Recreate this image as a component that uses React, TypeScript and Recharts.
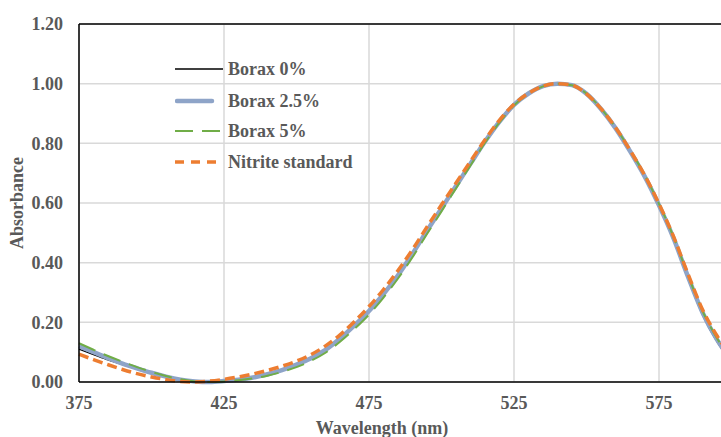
import React from 'react';
import { LineChart, Line, XAxis, YAxis, CartesianGrid, ReferenceLine } from 'recharts';

const wavelengths = [
  375, 380, 385, 390, 395, 400, 405, 410, 415, 420, 425, 430, 435, 440, 445, 450,
  455, 460, 465, 470, 475, 480, 485, 490, 495, 500, 505, 510, 515, 520, 525, 530,
  535, 540, 545, 550, 555, 560, 565, 570, 575, 580, 585, 590, 595, 600,
];

const borax0 = [
  0.110, 0.092, 0.074, 0.058, 0.043, 0.028, 0.016, 0.006, 0.001, 0.000, 0.003, 0.007,
  0.013, 0.024, 0.038, 0.056, 0.078, 0.106, 0.145, 0.188, 0.236, 0.293, 0.357, 0.428,
  0.505, 0.580, 0.655, 0.730, 0.805, 0.872, 0.928, 0.966, 0.991, 1.000, 0.994, 0.964,
  0.912, 0.848, 0.770, 0.686, 0.587, 0.475, 0.345, 0.225, 0.135, 0.065,
];

const borax25 = [
  0.120, 0.100, 0.080, 0.062, 0.046, 0.031, 0.018, 0.008, 0.002, 0.000, 0.003, 0.008,
  0.015, 0.026, 0.040, 0.058, 0.080, 0.108, 0.146, 0.190, 0.238, 0.295, 0.358, 0.430,
  0.507, 0.582, 0.657, 0.732, 0.806, 0.873, 0.929, 0.967, 0.992, 1.000, 0.995, 0.966,
  0.915, 0.851, 0.774, 0.690, 0.592, 0.482, 0.353, 0.233, 0.142, 0.072,
];

const borax5 = [
  0.130, 0.108, 0.087, 0.068, 0.050, 0.034, 0.020, 0.009, 0.002, 0.000, 0.002, 0.006,
  0.012, 0.021, 0.034, 0.050, 0.071, 0.098, 0.135, 0.178, 0.226, 0.283, 0.347, 0.418,
  0.496, 0.572, 0.649, 0.726, 0.802, 0.870, 0.927, 0.966, 0.991, 1.000, 0.995, 0.967,
  0.917, 0.854, 0.778, 0.695, 0.597, 0.487, 0.358, 0.238, 0.147, 0.077,
];

const nitrite = [
  0.093, 0.075, 0.058, 0.042, 0.028, 0.017, 0.008, 0.002, 0.000, 0.003, 0.009, 0.017,
  0.027, 0.039, 0.053, 0.070, 0.092, 0.121, 0.158, 0.203, 0.253, 0.310, 0.374, 0.444,
  0.520, 0.594, 0.667, 0.740, 0.812, 0.878, 0.931, 0.968, 0.992, 1.000, 0.995, 0.966,
  0.916, 0.853, 0.777, 0.694, 0.597, 0.488, 0.362, 0.243, 0.155, 0.085,
];

const xTicks = [375, 425, 475, 525, 575];
const yTicks = [0, 0.2, 0.4, 0.6, 0.8, 1.0, 1.2];

const data = wavelengths.map((w, i) => ({
  w,
  b0: borax0[i],
  b25: borax25[i],
  b5: borax5[i],
  nit: nitrite[i],
}));

const FONT = '"Liberation Serif", "Times New Roman", serif';
const TEXT = '#595959';
const tickStyle = { fontFamily: FONT, fontSize: 18, fontWeight: 700, fill: TEXT };

const legendRows = [
  { label: 'Borax 0%', y: 69, el: <line x1={0} x2={48} y1={6} y2={6} stroke="#000" strokeWidth={1.3} /> },
  { label: 'Borax 2.5%', y: 101, el: <line x1={2} x2={37} y1={6} y2={6} stroke="#8EA4C8" strokeWidth={4.5} strokeLinecap="round" /> },
  { label: 'Borax 5%', y: 131, el: <line x1={0} x2={46} y1={6} y2={6} stroke="#70AD47" strokeWidth={2} strokeDasharray="18 9" /> },
  { label: 'Nitrite standard', y: 162, el: <line x1={0} x2={44} y1={6} y2={6} stroke="#ED7D31" strokeWidth={3.5} strokeDasharray="9 7" /> },
];

export default function App() {
  return (
    <div style={{ position: 'fixed', left: 0, top: 0, width: 721, height: 437, overflow: 'hidden', background: '#fff' }}>
      <LineChart width={830} height={437} data={data} margin={{ top: 24, right: 26, bottom: 0, left: 0 }}>
        <CartesianGrid stroke="#d9d9d9" strokeWidth={1.5} />
        <XAxis
          dataKey="w"
          type="number"
          domain={[375, 625]}
          ticks={xTicks}
          height={55}
          tickLine={false}
          tickSize={0}
          tickMargin={14}
          axisLine={{ stroke: '#000', strokeWidth: 1.5 }}
          tick={tickStyle}
        />
        <YAxis
          type="number"
          domain={[0, 1.2]}
          ticks={yTicks}
          width={79}
          tickLine={false}
          tickSize={0}
          tickMargin={16}
          axisLine={{ stroke: '#000', strokeWidth: 1.5 }}
          tick={tickStyle}
          tickFormatter={(v: number) => v.toFixed(2)}
        />
        <ReferenceLine y={1.2} stroke="#000" strokeWidth={1.5} />
        <Line type="monotone" dataKey="b0" stroke="#000" strokeWidth={1.3} dot={false} isAnimationActive={false} />
        <Line type="monotone" dataKey="b25" stroke="#8EA4C8" strokeWidth={4.5} dot={false} isAnimationActive={false} />
        <Line type="monotone" dataKey="b5" stroke="#70AD47" strokeWidth={2} strokeDasharray="18 9" dot={false} isAnimationActive={false} />
        <Line type="monotone" dataKey="nit" stroke="#ED7D31" strokeWidth={3.5} strokeDasharray="10 5" dot={false} isAnimationActive={false} />
      </LineChart>

      {legendRows.map((r) => (
        <div key={r.label} style={{ position: 'absolute', left: 175, top: r.y - 12, height: 24, display: 'flex', alignItems: 'center' }}>
          <svg width={50} height={12} style={{ display: 'block' }}>{r.el}</svg>
          <span style={{ marginLeft: 3, fontFamily: FONT, fontSize: 18, fontWeight: 700, color: TEXT, whiteSpace: 'nowrap' }}>
            {r.label}
          </span>
        </div>
      ))}

      <div
        style={{
          position: 'absolute', left: 17, top: 203, transform: 'translate(-50%, -50%) rotate(-90deg)',
          fontFamily: FONT, fontSize: 18, fontWeight: 700, color: TEXT, whiteSpace: 'nowrap',
        }}
      >
        Absorbance
      </div>
      <div
        style={{
          position: 'absolute', left: 382, top: 428, transform: 'translate(-50%, -50%)',
          fontFamily: FONT, fontSize: 18, fontWeight: 700, color: TEXT, whiteSpace: 'nowrap',
        }}
      >
        Wavelength (nm)
      </div>
    </div>
  );
}
